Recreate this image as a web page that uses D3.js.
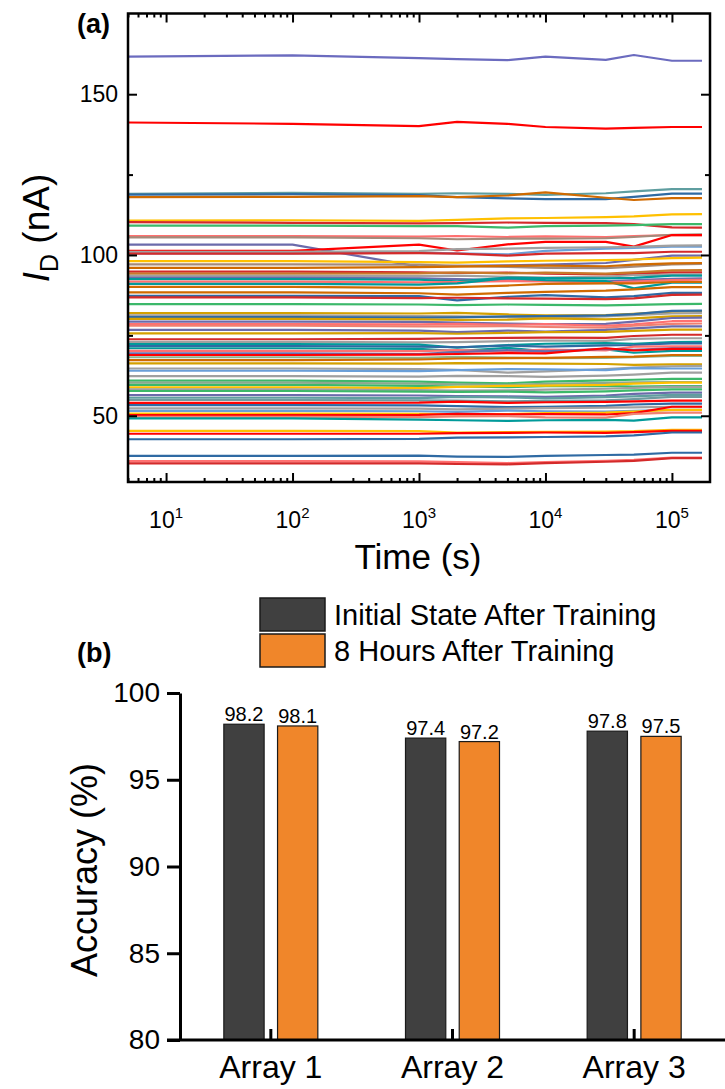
<!DOCTYPE html>
<html><head><meta charset="utf-8">
<script src="https://cdn.jsdelivr.net/npm/d3@7"></script>
<style>body{margin:0;background:#fff} svg text{font-family:"Liberation Sans",Arial,sans-serif;fill:#000}</style>
</head><body><svg id="c" width="725" height="1089"></svg>
<script>
// ---------- DATA ----------
const times = [5, 100, 1000, 2000, 5000, 10000, 30000, 50000, 100000, 172800];
const timeTicks = [10, 100, 1000, 10000, 100000];
const currentTicks = [50, 100, 150];
const currentMinorTicks = [75, 125];
const lineColors = [
"#6b6bbf","#ff0000","#5f9ea0","#2f6aa3","#d06a00","#ffc000","#d42a2a","#3cb86a","#ff7070","#a48a7a",
"#6b6bab","#ff0000","#6a9fd8","#a0a0a0","#d42a2a","#ffc000","#a48a7a","#d06a00","#d42a2a","#c87a2a",
"#a0a0a0","#6b6bab","#009a9a","#ff7070","#009a9a","#d06a00","#d06a00","#2f6aa3","#d42a2a","#3cb86a",
"#d4a000","#a0a0a0","#2f6aa3","#d4a000","#6b6bab","#ff7070","#f08070","#6b6bab","#d4a000","#d42a2a",
"#a0a0a0","#009a9a","#2f6aa3","#009a9a","#ff7070","#6b6bab","#ff0000","#8fb48f","#d06a00","#d4a000",
"#a0a0a0","#6a9fd8","#a0a0a0","#3cb86a","#8fa88f","#3cb86a","#ffc000","#a0a0a0","#3cb86a","#6b6bab",
"#5f9ea0","#6f9aa0","#ff0000","#2f6aa3","#a0a0a0","#6a9fd8","#ffc000","#ff0000","#f08070","#009a9a",
"#ffc000","#ff0000","#2f6aa3","#2f6aa3","#ff7070","#d42a2a"];
const lineValues = [
[161.7,162.1,161.2,160.9,160.6,161.7,160.7,162.2,160.4,160.4],
[141.2,140.8,140.1,141.4,140.8,139.8,139.3,139.5,139.8,139.8],
[119.0,119.3,119.0,119.2,119.0,118.7,119.2,119.8,120.5,120.5],
[118.8,118.9,118.6,118.0,117.6,117.4,117.4,118.1,119.1,119.1],
[118.0,118.1,118.3,118.0,118.5,119.5,117.8,117.1,117.7,117.7],
[110.7,110.8,110.6,110.9,111.4,111.5,111.8,112.0,112.6,112.7],
[110.2,110.0,109.8,109.9,110.1,110.0,109.9,109.6,108.6,108.5],
[109.1,109.1,109.0,109.0,108.5,109.0,109.1,109.3,109.6,109.6],
[105.9,105.9,105.7,105.9,105.6,105.8,105.6,105.9,106.2,106.2],
[105.5,105.5,105.2,104.9,105.1,105.1,105.2,105.6,106.3,106.4],
[103.2,103.2,96.4,96.6,96.8,97.0,97.5,98.5,99.8,99.8],
[101.3,101.3,103.2,101.4,103.3,104.1,104.1,102.6,106.2,106.2],
[100.5,100.5,100.7,100.5,100.2,101.3,102.0,102.2,102.6,102.6],
[101.0,101.0,101.2,101.8,102.0,102.2,102.4,102.5,102.9,103.0],
[100.4,100.4,100.6,100.4,99.8,100.4,100.6,100.6,101.0,101.0],
[98.1,98.1,97.8,97.6,98.0,98.2,98.4,98.6,99.0,99.2],
[97.1,97.1,97.0,96.6,96.3,96.0,95.9,96.4,97.1,97.2],
[96.0,96.0,96.2,96.4,96.6,96.7,96.5,97.0,97.4,97.5],
[94.8,94.8,94.6,94.4,94.5,94.2,94.0,94.2,94.6,94.6],
[94.2,94.2,94.3,94.6,94.3,94.5,94.2,94.6,95.2,95.3],
[93.5,93.5,93.4,93.6,93.2,93.0,93.3,93.7,93.9,94.0],
[92.9,92.9,92.7,92.5,92.2,92.0,91.8,92.2,92.6,92.7],
[92.5,92.5,92.3,91.8,93.0,92.8,92.7,92.9,93.6,93.6],
[91.7,91.7,91.5,91.6,91.9,91.8,91.4,91.7,92.2,92.3],
[91.0,91.0,90.8,91.2,92.8,92.2,91.9,89.6,91.4,91.4],
[90.1,90.1,89.8,90.0,90.5,91.0,91.2,91.2,91.6,91.6],
[88.4,88.4,88.1,87.7,88.2,88.5,88.9,89.3,90.0,90.0],
[87.3,87.3,87.2,85.9,87.0,87.5,86.8,87.2,88.2,88.2],
[86.8,86.8,86.6,86.7,86.5,86.4,86.3,86.5,87.6,87.7],
[84.7,84.7,84.6,84.4,84.6,84.5,84.3,84.5,84.7,84.8],
[81.9,81.9,81.8,82.0,81.5,81.2,81.3,81.7,82.4,82.5],
[81.2,81.2,81.0,80.9,80.7,80.5,80.9,81.3,81.8,81.9],
[80.7,80.7,80.5,80.6,80.9,81.0,81.2,81.6,82.6,82.7],
[80.1,80.1,80.0,79.8,79.9,80.3,80.0,80.3,80.9,81.0],
[79.3,79.3,79.2,79.0,78.7,78.5,78.6,79.3,80.4,80.5],
[78.5,78.5,78.4,78.6,78.3,78.5,78.0,78.4,79.4,79.5],
[78.0,78.0,77.8,77.8,77.9,77.6,77.4,78.0,78.6,78.7],
[76.7,76.7,76.5,76.0,76.5,76.2,76.7,77.2,77.8,77.8],
[75.6,75.6,75.7,75.5,75.8,76.0,76.1,76.4,76.8,76.8],
[73.8,73.8,73.9,74.1,74.2,74.3,74.2,74.8,75.2,75.2],
[73.0,73.0,72.8,72.9,73.2,73.4,73.3,73.9,74.1,74.1],
[72.3,72.3,72.1,71.2,72.0,72.4,72.6,72.4,72.9,73.0],
[71.7,71.7,71.5,71.3,71.8,71.5,71.9,72.0,72.5,72.5],
[71.0,71.0,70.8,70.1,71.1,70.0,70.6,69.6,70.2,70.2],
[70.2,70.2,70.1,70.4,70.0,70.6,70.3,71.5,71.6,71.6],
[69.4,69.4,69.2,69.8,70.4,70.0,70.8,70.5,71.0,71.0],
[68.9,68.9,69.0,69.2,69.5,69.4,71.0,70.3,70.8,70.8],
[68.2,68.2,68.0,68.3,68.1,67.9,68.0,68.2,68.6,68.6],
[67.3,67.3,67.5,67.8,67.9,68.0,68.3,68.4,68.9,68.9],
[66.3,66.3,66.2,66.4,66.3,66.2,66.1,65.8,66.0,66.0],
[64.7,64.7,64.5,64.3,63.4,63.8,64.5,65.0,65.4,65.5],
[64.0,64.0,63.9,64.2,64.5,64.4,64.2,64.8,64.7,64.7],
[62.3,62.3,62.2,62.4,62.3,62.1,62.5,62.8,63.4,63.4],
[60.9,60.9,60.6,60.3,60.1,60.6,61.0,61.2,61.5,61.5],
[60.3,60.3,60.0,59.8,59.6,59.9,60.2,60.4,60.5,60.5],
[59.6,59.6,59.3,59.1,58.9,59.2,59.3,59.1,59.2,59.2],
[58.8,58.8,58.6,59.0,59.3,59.4,59.6,60.0,60.3,60.3],
[58.2,58.2,58.0,57.8,57.9,58.1,58.4,58.7,59.0,59.0],
[57.7,57.7,57.5,57.4,57.5,57.3,57.6,57.9,58.2,58.2],
[56.4,56.4,56.3,56.1,56.0,55.9,56.3,56.8,57.2,57.2],
[55.6,55.6,55.5,55.9,55.7,55.4,55.8,56.0,56.5,56.5],
[54.9,54.9,54.8,54.7,54.5,54.6,54.8,55.2,55.9,55.9],
[54.0,54.0,54.1,54.4,54.0,54.2,54.3,54.5,54.7,54.7],
[53.3,53.3,53.2,53.0,52.7,52.8,53.1,53.5,53.8,53.8],
[52.3,52.3,52.2,52.0,52.2,52.4,52.5,52.6,52.8,52.8],
[51.5,51.5,51.4,51.2,51.6,51.4,51.3,51.5,51.8,51.8],
[50.7,50.7,50.6,50.4,50.5,50.8,51.0,51.3,51.8,51.8],
[50.2,50.2,50.3,50.6,50.4,50.5,50.4,50.8,52.8,52.8],
[49.7,49.7,49.6,49.8,49.9,49.5,49.4,50.6,51.0,51.0],
[49.2,49.2,48.8,48.6,48.4,48.6,48.7,48.5,49.5,49.5],
[45.3,45.3,45.2,44.8,44.9,45.0,45.1,45.2,45.6,45.6],
[44.4,44.4,44.4,44.6,44.7,44.8,44.7,44.9,45.3,45.3],
[42.7,42.7,42.8,43.2,43.3,43.4,43.6,43.9,44.8,44.8],
[37.5,37.5,37.6,37.3,37.2,37.5,37.8,37.9,38.5,38.5],
[35.9,35.9,35.8,35.6,35.3,35.6,36.0,36.3,37.0,37.0],
[35.2,35.2,35.2,35.0,34.9,35.3,35.7,36.0,36.8,36.8]];

const arrays = ["Array 1", "Array 2", "Array 3"];
const seriesNames = ["Initial State After Training", "8 Hours After Training"];
const seriesColors = ["#404040", "#f0862a"];
const initialAcc = [98.2, 97.4, 97.8];
const after8hAcc = [98.1, 97.2, 97.5];
const accTicks = [80, 85, 90, 95, 100];

// ---------- PANEL (a) ----------
const svg = d3.select("#c");
const A = {l:128, r:710, t:13.5, b:482};
const x = d3.scaleLog().domain([5, 2e5]).range([A.l, A.r]);
const y = d3.scaleLinear().domain([29.4, 175.1]).range([A.b, A.t]);

svg.append("defs").append("clipPath").attr("id","clipA")
  .append("rect").attr("x",A.l).attr("y",A.t).attr("width",A.r-A.l).attr("height",A.b-A.t);

const line = d3.line().x((d,i)=>x(times[i])).y(d=>y(d));
const gL = svg.append("g").attr("clip-path","url(#clipA)");
lineValues.forEach((vals,k)=>{
  gL.append("path").attr("d", line(vals)).attr("fill","none")
    .attr("stroke", lineColors[k]).attr("stroke-width",2.2).attr("stroke-linejoin","round");
});

// minor x ticks
const minorX = [];
[1,10,100,1000,10000,100000].forEach(dec=>{ for(let m=2;m<=9;m++){ const v=m*dec; if(v>5 && v<2e5 && !timeTicks.includes(v)) minorX.push(v);} });
minorX.push(5);
function styleAxis(g){ g.select(".domain").remove(); g.selectAll("line").attr("stroke","#000").attr("stroke-width",2); g.selectAll("text").remove(); }
svg.append("g").attr("transform",`translate(0,${A.b})`).call(d3.axisBottom(x).tickValues(minorX).tickSize(-4)).call(styleAxis);
svg.append("g").attr("transform",`translate(0,${A.b})`).call(d3.axisBottom(x).tickValues(timeTicks).tickSize(-9)).call(styleAxis);
svg.append("g").attr("transform",`translate(0,${A.t})`).call(d3.axisTop(x).tickValues(minorX).tickSize(-4)).call(styleAxis);
svg.append("g").attr("transform",`translate(0,${A.t})`).call(d3.axisTop(x).tickValues(timeTicks).tickSize(-9)).call(styleAxis);
svg.append("g").attr("transform",`translate(${A.l},0)`).call(d3.axisLeft(y).tickValues(currentTicks).tickSize(-9)).call(styleAxis);
svg.append("g").attr("transform",`translate(${A.l},0)`).call(d3.axisLeft(y).tickValues(currentMinorTicks).tickSize(-5)).call(styleAxis);
svg.append("g").attr("transform",`translate(${A.r},0)`).call(d3.axisRight(y).tickValues(currentTicks).tickSize(-9)).call(styleAxis);
svg.append("g").attr("transform",`translate(${A.r},0)`).call(d3.axisRight(y).tickValues(currentMinorTicks).tickSize(-5)).call(styleAxis);

svg.append("rect").attr("x",A.l).attr("y",A.t).attr("width",A.r-A.l).attr("height",A.b-A.t)
  .attr("fill","none").attr("stroke","#000").attr("stroke-width",2.5);

// y tick labels
svg.selectAll(".ylabA").data(currentTicks).enter().append("text")
  .attr("x", A.l-10).attr("y", d=>y(d)).attr("dy","0.36em").attr("text-anchor","end")
  .attr("font-size",23).text(d=>d);
// x tick labels with superscript
timeTicks.forEach(v=>{
  const t = svg.append("text").attr("x", x(v)).attr("y", 528).attr("text-anchor","middle").attr("font-size",23);
  t.append("tspan").text("10");
  t.append("tspan").attr("font-size",15).attr("dy",-10).text(String(Math.round(Math.log10(v))));
});
svg.append("text").attr("x", 418).attr("y", 569).attr("text-anchor","middle").attr("font-size",35).text("Time (s)");
const yl = svg.append("text").attr("transform","translate(49,228) rotate(-90)").attr("text-anchor","middle").attr("font-size",37);
yl.append("tspan").attr("font-style","italic").text("I");
yl.append("tspan").attr("font-size",25).attr("dy",9).text("D");
yl.append("tspan").attr("dy",-9).text(" (nA)");
svg.append("text").attr("x",77).attr("y",33).attr("font-size",27).attr("font-weight","bold").text("(a)");

// ---------- PANEL (b) ----------
const B = {l:180, r:725, t:693, b:1040};
const xb = d3.scaleBand().domain(arrays).range([B.l, B.r]);
const xs = d3.scaleBand().domain(seriesNames).range([-47, 47]).paddingInner(0.25);
const yb = d3.scaleLinear().domain([80, 100]).range([B.b, B.t]);

const rows = arrays.map((a,i)=>({cat:a, vals:[initialAcc[i], after8hAcc[i]]}));
const gB = svg.append("g");
rows.forEach(r=>{
  r.vals.forEach((v,j)=>{
    const bx = xb(r.cat)+xb.bandwidth()/2 + xs(seriesNames[j]);
    gB.append("rect").attr("x",bx).attr("y",yb(v)).attr("width",xs.bandwidth()).attr("height",yb(80)-yb(v))
      .attr("fill",seriesColors[j]).attr("stroke","#1a1a1a").attr("stroke-width",1.2);
    gB.append("text").attr("x",bx+xs.bandwidth()/2).attr("y",yb(v)-3).attr("text-anchor","middle")
      .attr("font-size",20).text(v.toFixed(1));
  });
});

// y axis
const yAx = svg.append("g").attr("transform",`translate(${B.l},0)`)
  .call(d3.axisLeft(yb).tickValues(accTicks).tickSize(13).tickSizeOuter(0).tickPadding(7));
yAx.select(".domain").attr("stroke-width",3);
yAx.selectAll(".tick line").attr("stroke-width",3);
yAx.selectAll("text").attr("font-size",28).attr("font-family","Liberation Sans, Arial, sans-serif");
// x axis
svg.append("line").attr("x1",B.l-13).attr("x2",B.r).attr("y1",B.b).attr("y2",B.b).attr("stroke","#000").attr("stroke-width",3);
const xAx = svg.append("g").attr("transform",`translate(0,${B.b})`)
  .call(d3.axisBottom(xb).tickSize(-11).tickSizeOuter(0).tickPadding(15));
xAx.select(".domain").remove();
xAx.selectAll(".tick line").attr("stroke-width",3);
xAx.selectAll("text").attr("font-size",32).attr("font-family","Liberation Sans, Arial, sans-serif");

svg.append("text").attr("transform","translate(97,870) rotate(-90)").attr("text-anchor","middle")
  .attr("font-size",36).text("Accuracy (%)");
svg.append("text").attr("x",77).attr("y",662).attr("font-size",27).attr("font-weight","bold").text("(b)");

// legend
seriesNames.forEach((n,j)=>{
  const ly = 598 + j*36;
  svg.append("rect").attr("x",260).attr("y",ly).attr("width",65).attr("height",33)
    .attr("fill",seriesColors[j]).attr("stroke","#1a1a1a").attr("stroke-width",1.5);
  svg.append("text").attr("x",334).attr("y",ly+27).attr("font-size",29).text(n);
});
</script></body></html>
